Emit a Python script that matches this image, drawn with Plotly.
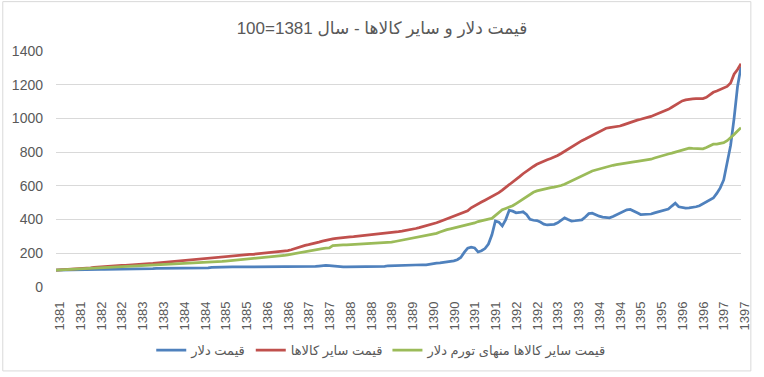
import plotly.graph_objects as go

# ---------------- data ----------------
years = list(range(1381, 1398))
months_last_year = 7  # series end in month 7 of 1397

title_text = "\u202bقیمت دلار و سایر کالاها - سال 1381=100\u202c"
name_dollar = "قیمت دلار"
name_goods = "قیمت سایر کالاها"
name_goods_real = "قیمت سایر کالاها منهای تورم دلار"

# قیمت دلار (index, 1381 = 100), monthly
dollar = (
    [100, 100, 100, 100, 100, 100, 101, 101, 101, 102, 102, 103] +      # 1381
    [104, 104, 105, 105, 105, 106, 106, 106, 107, 107, 107, 108] +      # 1382
    [108, 108, 109, 109, 109, 110, 110, 110, 111, 111, 111, 112] +      # 1383
    [112, 112, 112, 112, 113, 113, 113, 113, 113, 117, 118, 118] +      # 1384
    [119, 119, 119, 119, 119, 119, 119, 119, 119, 119, 119, 119] +      # 1385
    [119, 119, 119, 119, 119, 120, 120, 120, 120, 120, 120, 120] +      # 1386
    [120, 120, 121, 122, 124, 127, 128, 127, 125, 121, 120, 120] +      # 1387
    [120, 120, 120, 120, 120, 120, 120, 120, 120, 121, 121, 122] +      # 1388
    [126, 127, 127, 127, 128, 130, 131, 131, 131, 131, 132, 132] +      # 1389
    [136, 139, 141, 143, 145, 147, 150, 155, 162, 175, 205, 230] +      # 1390
    [236, 232, 208, 215, 228, 255, 310, 392, 385, 362, 400, 455] +      # 1391
    [450, 440, 442, 446, 430, 402, 396, 394, 385, 373, 368, 368] +      # 1392
    [372, 381, 395, 410, 400, 391, 393, 396, 398, 415, 435, 438] +      # 1393
    [428, 420, 415, 412, 410, 418, 428, 438, 448, 458, 460, 452] +      # 1394
    [440, 430, 432, 433, 433, 440, 446, 450, 455, 462, 480, 497] +      # 1395
    [476, 470, 468, 469, 471, 476, 482, 494, 507, 517, 528, 555] +      # 1396
    [588, 635, 745, 840, 1000, 1190, 1305]                              # 1397
)

# قیمت سایر کالاها
goods = (
    [100, 101, 103, 104, 105, 107, 108, 110, 111, 113, 114, 116] +
    [118, 119, 121, 122, 124, 125, 127, 128, 129, 131, 132, 133] +
    [134, 135, 137, 139, 140, 142, 143, 145, 146, 148, 149, 151] +
    [152, 154, 156, 158, 160, 163, 166, 168, 170, 172, 174, 176] +
    [178, 180, 182, 184, 186, 188, 190, 191, 193, 194, 196, 197] +
    [199, 200, 202, 204, 206, 209, 212, 216, 221, 228, 234, 240] +
    [247, 251, 255, 260, 266, 272, 278, 283, 286, 289, 292, 295] +
    [297, 298, 299, 301, 302, 304, 306, 308, 310, 312, 314, 316] +
    [319, 322, 325, 328, 331, 334, 337, 342, 347, 352, 357, 362] +
    [368, 374, 381, 389, 397, 405, 412, 420, 428, 436, 444, 452] +
    [470, 480, 493, 504, 515, 525, 535, 547, 560, 575, 590, 605] +
    [620, 638, 655, 672, 688, 702, 715, 728, 738, 748, 755, 762] +
    [770, 780, 792, 805, 818, 832, 845, 858, 868, 878, 888, 898] +
    [908, 920, 932, 942, 945, 948, 950, 955, 962, 970, 978, 985] +
    [990, 995, 1000, 1006, 1012, 1020, 1028, 1036, 1044, 1054, 1066, 1078] +
    [1092, 1104, 1110, 1114, 1116, 1117, 1118, 1118, 1125, 1140, 1155, 1163] +
    [1172, 1180, 1190, 1210, 1262, 1290, 1324]
)

# قیمت سایر کالاها منهای تورم دلار
goods_real = (
    [100, 101, 102, 103, 104, 105, 106, 107, 108, 109, 110, 111] +
    [112, 113, 114, 115, 116, 117, 118, 119, 120, 121, 122, 123] +
    [124, 125, 127, 128, 129, 130, 131, 132, 133, 134, 135, 136] +
    [137, 138, 140, 141, 142, 143, 145, 146, 147, 148, 150, 151] +
    [152, 154, 156, 158, 160, 162, 164, 166, 168, 169, 170, 171] +
    [172, 174, 176, 178, 180, 183, 187, 191, 195, 199, 203, 208] +
    [212, 216, 220, 223, 226, 228, 230, 232, 245, 248, 249, 250] +
    [250, 251, 252, 253, 254, 255, 256, 257, 258, 259, 260, 261] +
    [263, 266, 270, 274, 278, 282, 286, 290, 294, 298, 302, 306] +
    [309, 312, 318, 326, 334, 340, 345, 350, 355, 359, 362, 366] +
    [372, 380, 388, 394, 399, 403, 407, 425, 442, 458, 466, 474] +
    [482, 495, 508, 522, 535, 550, 562, 570, 576, 580, 585, 590] +
    [593, 597, 602, 610, 620, 630, 640, 650, 660, 670, 680, 688] +
    [694, 700, 707, 714, 718, 722, 726, 730, 734, 737, 740, 742] +
    [745, 748, 751, 754, 758, 765, 772, 778, 784, 789, 794, 800] +
    [808, 816, 820, 824, 822, 820, 820, 820, 828, 840, 847, 848] +
    [850, 856, 868, 885, 905, 925, 945]
)

y_ticks = [0, 200, 400, 600, 800, 1000, 1200, 1400]

# month categories "YYYY-MM"
categories = []
for yr in years:
    n = 12 if yr != years[-1] else months_last_year
    for m in range(1, n + 1):
        categories.append(f"{yr}-{m:02d}")

# labels every six months, showing the year only
tick_cats = categories[::6]
tick_text = [c[:4] for c in tick_cats]

# ---------------- figure ----------------
font_family = "Liberation Sans, Arial, DejaVu Sans, sans-serif"
grey = "#595959"

fig = go.Figure()
for name, vals, color in [
    (name_dollar, dollar, "#4F81BD"),
    (name_goods, goods, "#C0504D"),
    (name_goods_real, goods_real, "#9BBB59"),
]:
    fig.add_trace(go.Scatter(
        x=categories, y=vals, name=name, mode="lines",
        line=dict(color=color, width=2.75),
    ))

W, H = 764, 377
ml, mr, mt, mb = 55, 14, 51, 87
pw, ph = W - ml - mr, H - mt - mb

fig.update_layout(
    width=W, height=H, autosize=False,
    margin=dict(l=ml, r=mr, t=mt, b=mb),
    paper_bgcolor="white", plot_bgcolor="white",
    font=dict(family=font_family, color=grey, size=12),
    title=dict(
        text=title_text, x=0.5, xanchor="center",
        y=1 - 28 / H, yanchor="middle",
        font=dict(size=17, color=grey, family=font_family),
    ),
    showlegend=True,
    legend=dict(
        orientation="h", x=(385 - ml) / pw, xanchor="center",
        y=-(354 - (mt + ph)) / ph, yanchor="middle",
        font=dict(size=13, color=grey),
        itemwidth=30,
    ),
    xaxis=dict(
        type="category",
        range=[0, len(categories) - 1],
        tickmode="array", tickvals=tick_cats, ticktext=tick_text,
        tickangle=-90, tickfont=dict(size=13, color=grey),
        ticklabelstandoff=11, ticklabelshift=4,
        showgrid=False, zeroline=False, showline=False, ticks="",
    ),
    yaxis=dict(
        range=[0, 1400], tickvals=y_ticks,
        showgrid=True, gridcolor="#D9D9D9", gridwidth=1,
        zeroline=False, showline=False, ticks="",
        tickfont=dict(size=14, color=grey),
        ticklabelstandoff=12,
    ),
    shapes=[dict(
        type="rect", xref="paper", yref="paper",
        x0=(1 - ml) / pw, x1=(760 - ml) / pw,
        y0=-(375 - (mt + ph)) / ph, y1=(mt + ph - 1) / ph,
        line=dict(color="#D9D9D9", width=1), fillcolor="rgba(0,0,0,0)",
        layer="below",
    )],
)

fig.write_html(
    "out.html",
    config={"displayModeBar": False},
    post_script="document.body.style.margin='0';document.body.style.overflow='hidden';",
)
